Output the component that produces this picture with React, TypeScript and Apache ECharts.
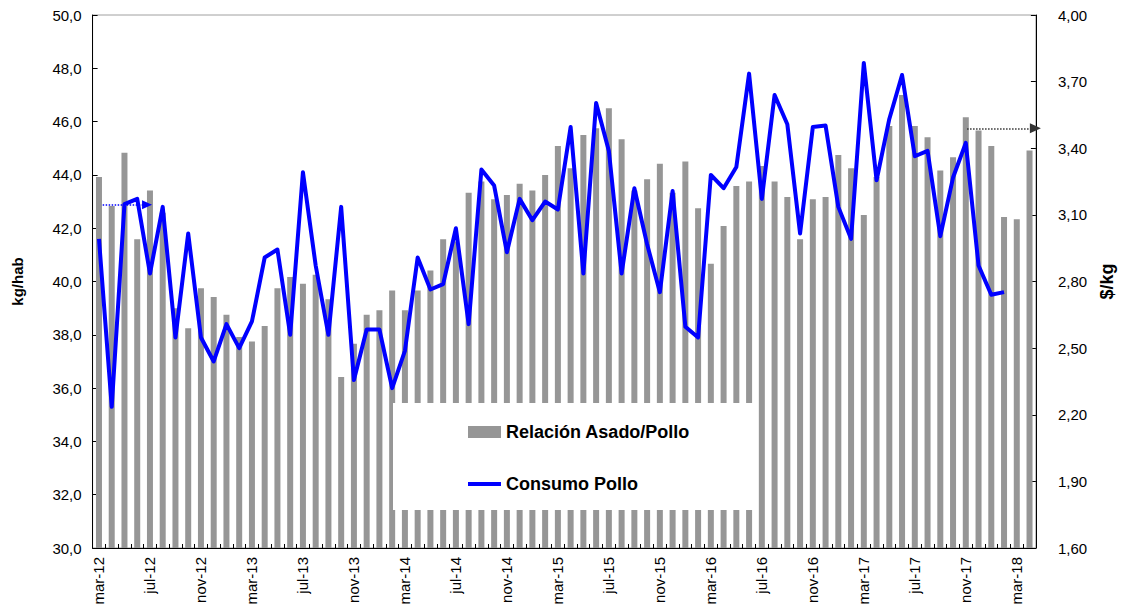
import React, { useEffect, useRef } from "react";
import * as echarts from "echarts";

const months = [
  "mar-12", "abr-12", "may-12", "jun-12", "jul-12", "ago-12", "sep-12", "oct-12", "nov-12", "dic-12",
  "ene-13", "feb-13", "mar-13", "abr-13", "may-13", "jun-13", "jul-13", "ago-13", "sep-13", "oct-13", "nov-13", "dic-13",
  "ene-14", "feb-14", "mar-14", "abr-14", "may-14", "jun-14", "jul-14", "ago-14", "sep-14", "oct-14", "nov-14", "dic-14",
  "ene-15", "feb-15", "mar-15", "abr-15", "may-15", "jun-15", "jul-15", "ago-15", "sep-15", "oct-15", "nov-15", "dic-15",
  "ene-16", "feb-16", "mar-16", "abr-16", "may-16", "jun-16", "jul-16", "ago-16", "sep-16", "oct-16", "nov-16", "dic-16",
  "ene-17", "feb-17", "mar-17", "abr-17", "may-17", "jun-17", "jul-17", "ago-17", "sep-17", "oct-17", "nov-17", "dic-17",
  "ene-18", "feb-18", "mar-18", "abr-18",
];

// Relación Asado/Pollo ($/kg, right axis)
const relacionAsadoPollo = [
  3.27, 3.14, 3.38, 2.99, 3.21, 3.11, 2.68, 2.59, 2.77, 2.73,
  2.65, 2.55, 2.53, 2.6, 2.77, 2.82, 2.79, 2.83, 2.72, 2.37, 2.52, 2.65,
  2.67, 2.76, 2.67, 2.76, 2.85, 2.99, 2.98, 3.2, 3.25, 3.17, 3.19, 3.24,
  3.21, 3.28, 3.41, 3.31, 3.46, 3.49, 3.58, 3.44, 3.21, 3.26, 3.33, 3.2,
  3.34, 3.13, 2.88, 3.05, 3.23, 3.25, 3.32, 3.25, 3.18, 2.99, 3.17, 3.18,
  3.37, 3.31, 3.1, 3.27, 3.5, 3.64, 3.5, 3.45, 3.3, 3.36, 3.54, 3.48,
  3.41, 3.09, 3.08, 3.39,
];

// Consumo Pollo (kg/hab, left axis)
const consumoPollo = [
  41.6, 35.3, 42.9, 43.1, 40.3, 42.8, 37.9, 41.8, 37.9, 37.0,
  38.4, 37.5, 38.5, 40.9, 41.2, 38.0, 44.1, 40.6, 38.0, 42.8, 36.3, 38.2,
  38.2, 36.0, 37.4, 40.9, 39.7, 39.9, 42.0, 38.4, 44.2, 43.6, 41.1, 43.1,
  42.3, 43.0, 42.7, 45.8, 40.3, 46.7, 44.9, 40.3, 43.5, 41.4, 39.6, 43.4,
  38.3, 37.9, 44.0, 43.5, 44.3, 47.8, 43.1, 47.0, 45.9, 41.8, 45.8, 45.85,
  42.8, 41.6, 48.2, 43.8, 46.1, 47.75, 44.7, 44.9, 41.7, 43.9, 45.2, 40.6,
  39.5, 39.6,
];

// Axis-pointer annotations: [x index, value]
const blueArrow = [[0.29, 42.88], [3.77, 42.88]];
const blackArrow = [[68.1, 3.49], [73.46, 3.49]];

const FONT = "'Liberation Sans', Arial, Helvetica, sans-serif";

export default function App() {
  const ref = useRef<HTMLDivElement>(null);

  useEffect(() => {
    if (!ref.current) return;
    const chart = echarts.init(ref.current, null, { renderer: "svg" });
    chart.setOption({
      animation: false,
      backgroundColor: "#ffffff",
      grid: {
        left: 92.6,
        right: 84,
        top: 15,
        bottom: 64,
        show: true,
        borderColor: "#a0a0a0",
        borderWidth: 1,
        backgroundColor: "transparent",
      },
      legend: {
        orient: "vertical",
        left: 393,
        top: 403,
        padding: [20, 68, 17, 75],
        backgroundColor: "#ffffff",
        itemWidth: 33,
        itemHeight: 12,
        itemGap: 34,
        textStyle: { fontFamily: FONT, fontSize: 18, fontWeight: "bold", color: "#000" },
        data: [
          { name: "Relación Asado/Pollo", icon: "rect" },
          { name: "Consumo Pollo", icon: "path://M0,0H33V4H0Z" },
        ],
      },
      xAxis: [
        {
          type: "category",
          data: months,
          boundaryGap: true,
          axisLine: { show: true, onZero: false, lineStyle: { color: "#000", width: 1 } },
          axisTick: { show: true, interval: 0, inside: true, length: 4, lineStyle: { color: "#000" } },
          axisLabel: {
            interval: 3,
            rotate: 90,
            fontSize: 15,
            fontFamily: FONT,
            color: "#000",
            margin: 9,
          },
          splitLine: { show: false },
        },
        {
          type: "value",
          min: -0.5,
          max: 73.5,
          show: false,
          axisLine: { onZero: false },
          splitLine: { show: false },
        },
      ],
      yAxis: [
        {
          type: "value",
          min: 30,
          max: 50,
          interval: 2,
          position: "left",
          name: "kg/hab",
          nameLocation: "middle",
          nameRotate: 90,
          nameGap: 68,
          nameTextStyle: { fontFamily: FONT, fontSize: 15, fontWeight: "bold", color: "#000" },
          axisLine: { show: true, onZero: false, lineStyle: { color: "#000", width: 1 } },
          axisTick: { show: true, inside: true, length: 5, lineStyle: { color: "#000" } },
          axisLabel: {
            fontFamily: FONT,
            fontSize: 15,
            color: "#000",
            margin: 11,
            formatter: (v: number) => v.toFixed(1).replace(".", ","),
          },
          splitLine: { show: false },
        },
        {
          type: "value",
          min: 1.6,
          max: 4.0,
          interval: 0.3,
          position: "right",
          name: "$/kg",
          nameLocation: "middle",
          nameRotate: 90,
          nameGap: 62,
          nameTextStyle: { fontFamily: FONT, fontSize: 18, fontWeight: "bold", color: "#000" },
          axisLine: { show: true, onZero: false, lineStyle: { color: "#000", width: 1 } },
          axisTick: { show: true, inside: true, length: 5, lineStyle: { color: "#000" } },
          axisLabel: {
            fontFamily: FONT,
            fontSize: 15,
            color: "#000",
            margin: 22,
            formatter: (v: number) => v.toFixed(2).replace(".", ","),
          },
          splitLine: { show: false },
        },
      ],
      series: [
        {
          name: "Relación Asado/Pollo",
          type: "bar",
          xAxisIndex: 0,
          yAxisIndex: 1,
          data: relacionAsadoPollo,
          barWidth: 6,
          itemStyle: { color: "#969696" },
          z: 2,
        },
        {
          name: "Consumo Pollo",
          type: "line",
          xAxisIndex: 0,
          yAxisIndex: 0,
          data: consumoPollo,
          symbol: "none",
          showSymbol: false,
          lineStyle: { color: "#0000ff", width: 4, join: "round" },
          itemStyle: { color: "#0000ff" },
          z: 3,
        },
        {
          name: "arrowLeft",
          type: "line",
          xAxisIndex: 1,
          yAxisIndex: 0,
          data: [],
          z: 4,
          markLine: {
            silent: true,
            symbol: ["none", "triangle"],
            symbolSize: [9, 10],
            label: { show: false },
            lineStyle: { color: "#0000ff", type: "dotted", width: 1.5 },
            itemStyle: { color: "#0000ff" },
            data: [[{ coord: blueArrow[0] }, { coord: blueArrow[1] }]],
          },
        },
        {
          name: "arrowRight",
          type: "line",
          xAxisIndex: 1,
          yAxisIndex: 1,
          data: [],
          z: 4,
          markLine: {
            silent: true,
            symbol: ["none", "triangle"],
            symbolSize: [10, 11],
            label: { show: false },
            lineStyle: { color: "#333333", type: "dotted", width: 1.5 },
            itemStyle: { color: "#333333" },
            data: [[{ coord: blackArrow[0] }, { coord: blackArrow[1] }]],
          },
        },
      ],
    });
    return () => chart.dispose();
  }, []);

  return (
    <div
      ref={ref}
      style={{ position: "absolute", left: 0, top: 0, width: 1124, height: 612, background: "#fff" }}
    />
  );
}
